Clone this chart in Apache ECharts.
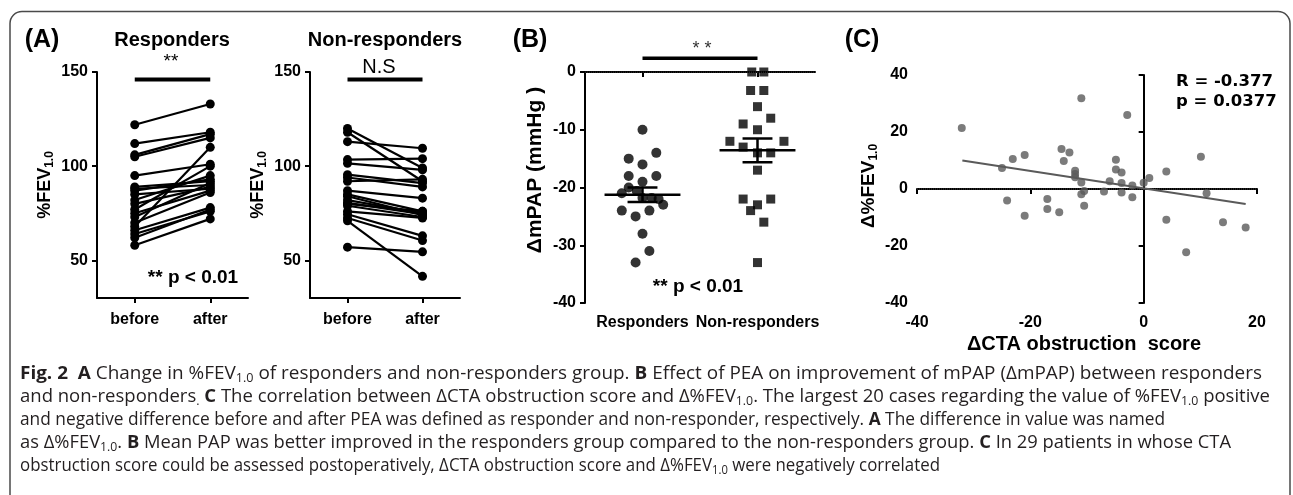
<!DOCTYPE html>
<html><head><meta charset="utf-8">
<script src="https://cdn.jsdelivr.net/npm/echarts@6/dist/echarts.min.js"></script>
<style>
html,body{margin:0;padding:0;background:#fff;}
#chart{position:absolute;left:0;top:0;width:1293px;height:495px;}
.cap{position:absolute;left:20px;white-space:nowrap;font-family:"Open Sans","Noto Sans",sans-serif;font-size:18px;color:#231f20;transform-origin:0 50%;line-height:23px;height:23px;}
.cap b{font-weight:700;}
.cap sub{font-size:12px;vertical-align:-3px;line-height:0;}
</style></head><body>
<div id="chart"></div>
<div id="caption"></div>
<script>
// ---------- data ----------
const xCats = ['before', 'after'];
const respBefore = [122, 112, 106, 105, 95, 89, 88, 87, 85, 82, 80, 77, 75, 73, 70, 68, 66, 64, 62, 58];
const respAfter  = [133, 118, 117, 115, 101, 92, 90, 93, 88, 95, 89, 100, 87, 91, 86, 110, 78, 76, 77, 72];
const nonBefore  = [120, 118, 113, 103.5, 101.5, 95.5, 94, 92, 87, 85, 82, 80.5, 79, 76, 74.5, 72.5, 71, 57, 80, 84];
const nonAfter   = [99, 92, 109.5, 104, 98, 91, 89, 93, 83, 76, 75, 74.5, 73, 72.5, 63, 60.5, 41.5, 54.5, 76, 74];
const fevTicks = [50, 100, 150];

const groupNames = ['Responders', 'Non-responders'];
const respMPAP = [-10, -14, -15, -16, -18, -18, -19, -20, -21, -20.6, -21.8, -21.8, -22, -23, -24, -24, -25, -28, -31, -33];
const respX    = [1.0, 1.12, 0.88, 1.0, 0.88, 1.12, 1.0, 0.88, 0.82, 0.95, 1.0, 1.08, 1.14, 1.18, 0.82, 1.06, 0.94, 1.0, 1.06, 0.94];
const nonMPAP  = [0, 0, -3.2, -3.2, -6, -8, -9, -10, -12, -12, -13, -14, -14, -17, -22, -22, -23, -24, -26, -33];
const nonX     = [1.95, 2.055, 1.94, 2.055, 2.0, 2.115, 1.875, 2.0, 1.76, 2.23, 1.875, 2.0, 2.115, 2.0, 1.875, 2.115, 2.0, 1.94, 2.055, 2.0];

const ctaX = [-32.1, -11.0, -2.9, -25.0, -23.1, -21.0, -24.1, -21.0, -14.5, -13.1, -14.1, -12.1, -12.1, -12.1, -11.0, -17.0, -17.0, -14.9, -11.0, -10.5, -10.5, -7.0, -6.0, -4.9, -4.9, -3.9, -3.9, -3.9, -2.0, -2.0, 0, 1.0, 4.0, 4.0, 10.1, 11.1, 7.5, 14.0, 18.0];
const fevY = [21.4, 31.8, 26, 7.4, 10.5, 11.9, -4, -9.4, 14, 12.8, 9.8, 6.4, 5.3, 4.1, 2.3, -3.5, -7, -8.2, -1.8, -0.7, -5.9, -0.9, 2.7, 10.3, 6.8, 5.8, 2.1, -1.2, 1.2, -2.9, 2.2, 3.9, 6.1, -10.8, 11.3, -1.5, -22.2, -11.7, -13.5];
const fitLine = [[-32, 10], [18, -5.3]];

// ---------- helpers ----------
const FF = '"Liberation Sans", Arial, sans-serif';
function mean(a){ return a.reduce((s,v)=>s+v,0)/a.length; }
function sem(a){ const m=mean(a); const v=a.reduce((s,x)=>s+(x-m)*(x-m),0)/(a.length-1); return Math.sqrt(v/a.length); }

const axLine = {show:true, lineStyle:{color:'#000', width:2}};
const axTick = (extra) => Object.assign({show:true, length:5, lineStyle:{color:'#000', width:2}}, extra||{});
const axLabel = (extra) => Object.assign({color:'#000', fontFamily:FF, fontWeight:'bold', fontSize:16}, extra||{});

const series = [];
function pairSeries(before, after, idx){
  before.forEach((b,i)=>{
    series.push({type:'line', xAxisIndex:idx, yAxisIndex:idx, data:[b, after[i]],
      symbol:'circle', symbolSize:9, itemStyle:{color:'#000'}, lineStyle:{color:'#000', width:2.2}, silent:true});
  });
}
pairSeries(respBefore, respAfter, 0);
pairSeries(nonBefore, nonAfter, 1);
// significance bars in A
series.push({type:'line', xAxisIndex:0, yAxisIndex:0, data:[[xCats[0],146],[xCats[1],146]], symbol:'none', lineStyle:{color:'#000', width:4}, clip:false});
series.push({type:'line', xAxisIndex:1, yAxisIndex:1, data:[[xCats[0],146],[xCats[1],146]], symbol:'none', lineStyle:{color:'#000', width:4}, clip:false});

// Panel B
series.push({type:'line', xAxisIndex:2, yAxisIndex:2, data:[[0.5,0],[2.5,0]], symbol:'none', lineStyle:{color:'#444', width:1, type:'dotted'}});
series.push({type:'scatter', xAxisIndex:2, yAxisIndex:2, data:respMPAP.map((v,i)=>[respX[i], v]), symbol:'circle', symbolSize:10, itemStyle:{color:'#000'}});
series.push({type:'scatter', xAxisIndex:2, yAxisIndex:2, data:nonMPAP.map((v,i)=>[nonX[i], v]), symbol:'rect', symbolSize:9, itemStyle:{color:'#000'}});
function meanSem(vals, c){
  const m = mean(vals), s = sem(vals);
  const segs = [
    [[c-0.33,m],[c+0.33,m]],
    [[c-0.13,m+s],[c+0.13,m+s]],
    [[c-0.13,m-s],[c+0.13,m-s]],
    [[c,m-s],[c,m+s]]
  ];
  segs.forEach(d=>series.push({type:'line', xAxisIndex:2, yAxisIndex:2, data:d, symbol:'none', lineStyle:{color:'#000', width:2.5}, z:5}));
}
meanSem(respMPAP, 1);
meanSem(nonMPAP, 2);
series.push({type:'line', xAxisIndex:2, yAxisIndex:2, data:[[1,2.4],[2,2.4]], symbol:'none', lineStyle:{color:'#000', width:3.5}, clip:false});

// Panel C
series.push({type:'line', xAxisIndex:3, yAxisIndex:3, data:[[-40,0],[20,0]], symbol:'none', lineStyle:{color:'#444', width:1, type:'dotted'}});
series.push({type:'scatter', xAxisIndex:3, yAxisIndex:3, data:ctaX.map((v,i)=>[v, fevY[i]]), symbol:'circle', symbolSize:8, itemStyle:{color:'#5a5a5a'}});
series.push({type:'line', xAxisIndex:3, yAxisIndex:3, data:fitLine, symbol:'none', lineStyle:{color:'#5a5a5a', width:2}});

function T(x, y, text, size, o){
  return Object.assign({type:'text', x:x, y:y, silent:true,
    style:Object.assign({text:text, fontSize:size, fontWeight:'bold', fontFamily:FF, fill:'#000', align:'center', verticalAlign:'middle'}, (o&&o.style)||{})},
    (o&&o.el)||{});
}
const subRich = (sz)=>({s:{fontSize:sz, fontWeight:'bold', fontFamily:FF, fill:'#000', padding:[9,0,0,0], verticalAlign:'bottom'}});

const graphic = [
  {type:'rect', shape:{x:10, y:11.5, width:1280, height:700, r:12}, style:{fill:'none', stroke:'#4a4a4a', lineWidth:1.5}, silent:true, z:-10},
  T(42, 40, '(A)', 25),
  T(172, 40, 'Responders', 20),
  T(171, 62, '**', 19, {style:{fontWeight:'normal'}}),
  T(193, 278, '** p < 0.01', 19),
  T(385, 40, 'Non-responders', 20),
  T(379, 67, 'N.S', 20, {style:{fontWeight:'normal'}}),
  T(530, 40, '(B)', 25),
  T(702, 49, '* *', 18, {style:{fontWeight:'normal', fill:'#333'}}),
  T(698, 287, '** p < 0.01', 19),
  T(862, 40, '(C)', 25),
  T(1176, 82, 'R = -0.377', 16.5, {style:{align:'left', fontFamily:'"DejaVu Sans", Verdana, sans-serif'}}),
  T(1176, 102, 'p = 0.0377', 16.5, {style:{align:'left', fontFamily:'"DejaVu Sans", Verdana, sans-serif'}}),
  T(1084, 344, 'ΔCTA obstruction  score', 20),
  T(45, 185, '%FEV{s|1.0}', 18, {el:{rotation:Math.PI/2}, style:{rich:subRich(12)}}),
  T(258, 185, '%FEV{s|1.0}', 18, {el:{rotation:Math.PI/2}, style:{rich:subRich(12)}}),
  T(535, 170, 'ΔmPAP (mmHg )', 21, {el:{rotation:Math.PI/2}}),
  T(869, 186, 'Δ%FEV{s|1.0}', 19, {el:{rotation:Math.PI/2}, style:{rich:subRich(12)}})
];

const option = {
  animation:false,
  backgroundColor:'#fff',
  grid:[
    {left:97, top:72, width:151, height:226, outerBoundsMode:'none'},
    {left:310, top:72, width:150, height:226, outerBoundsMode:'none'},
    {left:585, top:72, width:230, height:231, outerBoundsMode:'none'},
    {left:917, top:75, width:340, height:228, outerBoundsMode:'none'}
  ],
  xAxis:[
    {type:'category', gridIndex:0, data:xCats, boundaryGap:true, axisLine:axLine, axisTick:axTick({alignWithLabel:true}), axisLabel:axLabel({fontSize:16, margin:14}), splitLine:{show:false}},
    {type:'category', gridIndex:1, data:xCats, boundaryGap:true, axisLine:axLine, axisTick:axTick({alignWithLabel:true}), axisLabel:axLabel({fontSize:16, margin:14}), splitLine:{show:false}},
    {type:'value', gridIndex:2, min:0.5, max:2.5, axisLine:axLine, axisTick:axTick({customValues:[1,2]}), axisLabel:axLabel({fontSize:16, margin:12, customValues:[1,2], formatter:(v)=>groupNames[Math.round(v)-1]}), splitLine:{show:false}},
    {type:'value', gridIndex:3, min:-40, max:20, interval:20, axisLine:axLine, axisTick:axTick(), axisLabel:axLabel({fontSize:16, margin:12}), splitLine:{show:false}}
  ],
  yAxis:[
    {type:'value', gridIndex:0, min:30, max:150, axisLine:axLine, axisTick:axTick({customValues:fevTicks}), axisLabel:axLabel({customValues:fevTicks, margin:9}), splitLine:{show:false}},
    {type:'value', gridIndex:1, min:30, max:150, axisLine:axLine, axisTick:axTick({customValues:fevTicks}), axisLabel:axLabel({customValues:fevTicks, margin:9}), splitLine:{show:false}},
    {type:'value', gridIndex:2, min:-40, max:0, interval:10, axisLine:axLine, axisTick:axTick(), axisLabel:axLabel({margin:9}), splitLine:{show:false}},
    {type:'value', gridIndex:3, min:-40, max:40, interval:20, axisLine:axLine, axisTick:axTick(), axisLabel:axLabel({margin:9}), splitLine:{show:false}}
  ],
  series:series,
  graphic:graphic
};
const chart = echarts.init(document.getElementById('chart'), null, {renderer:'canvas'});
chart.setOption(option);

// ---------- caption ----------
const capLines = [
  {y:372, w:1242, html:'<b>Fig. 2</b>&nbsp; <b>A</b> Change in %FEV<sub>1.0</sub> of responders and non-responders group. <b>B</b> Effect of PEA on improvement of mPAP (ΔmPAP) between responders'},
  {y:395, w:1250, html:'and non-responders<sub>.</sub> <b>C</b> The correlation between ΔCTA obstruction score and Δ%FEV<sub>1.0</sub>. The largest 20 cases regarding the value of %FEV<sub>1.0</sub> positive'},
  {y:418, w:1145, html:'and negative difference before and after PEA was defined as responder and non-responder, respectively. <b>A</b> The difference in value was named'},
  {y:441, w:1211, html:'as Δ%FEV<sub>1.0</sub>. <b>B</b> Mean PAP was better improved in the responders group compared to the non-responders group. <b>C</b> In 29 patients in whose CTA'},
  {y:464, w:920, html:'obstruction score could be assessed postoperatively, ΔCTA obstruction score and Δ%FEV<sub>1.0</sub> were negatively correlated'}
];
const capBox = document.getElementById('caption');
capLines.forEach(l=>{
  const d = document.createElement('div');
  d.className = 'cap';
  d.style.top = (l.y - 11.5) + 'px';
  d.innerHTML = l.html;
  capBox.appendChild(d);
  const w = d.getBoundingClientRect().width;
  if (w > 0) d.style.transform = 'scaleX(' + (l.w / w) + ')';
});
</script>
</body></html>
